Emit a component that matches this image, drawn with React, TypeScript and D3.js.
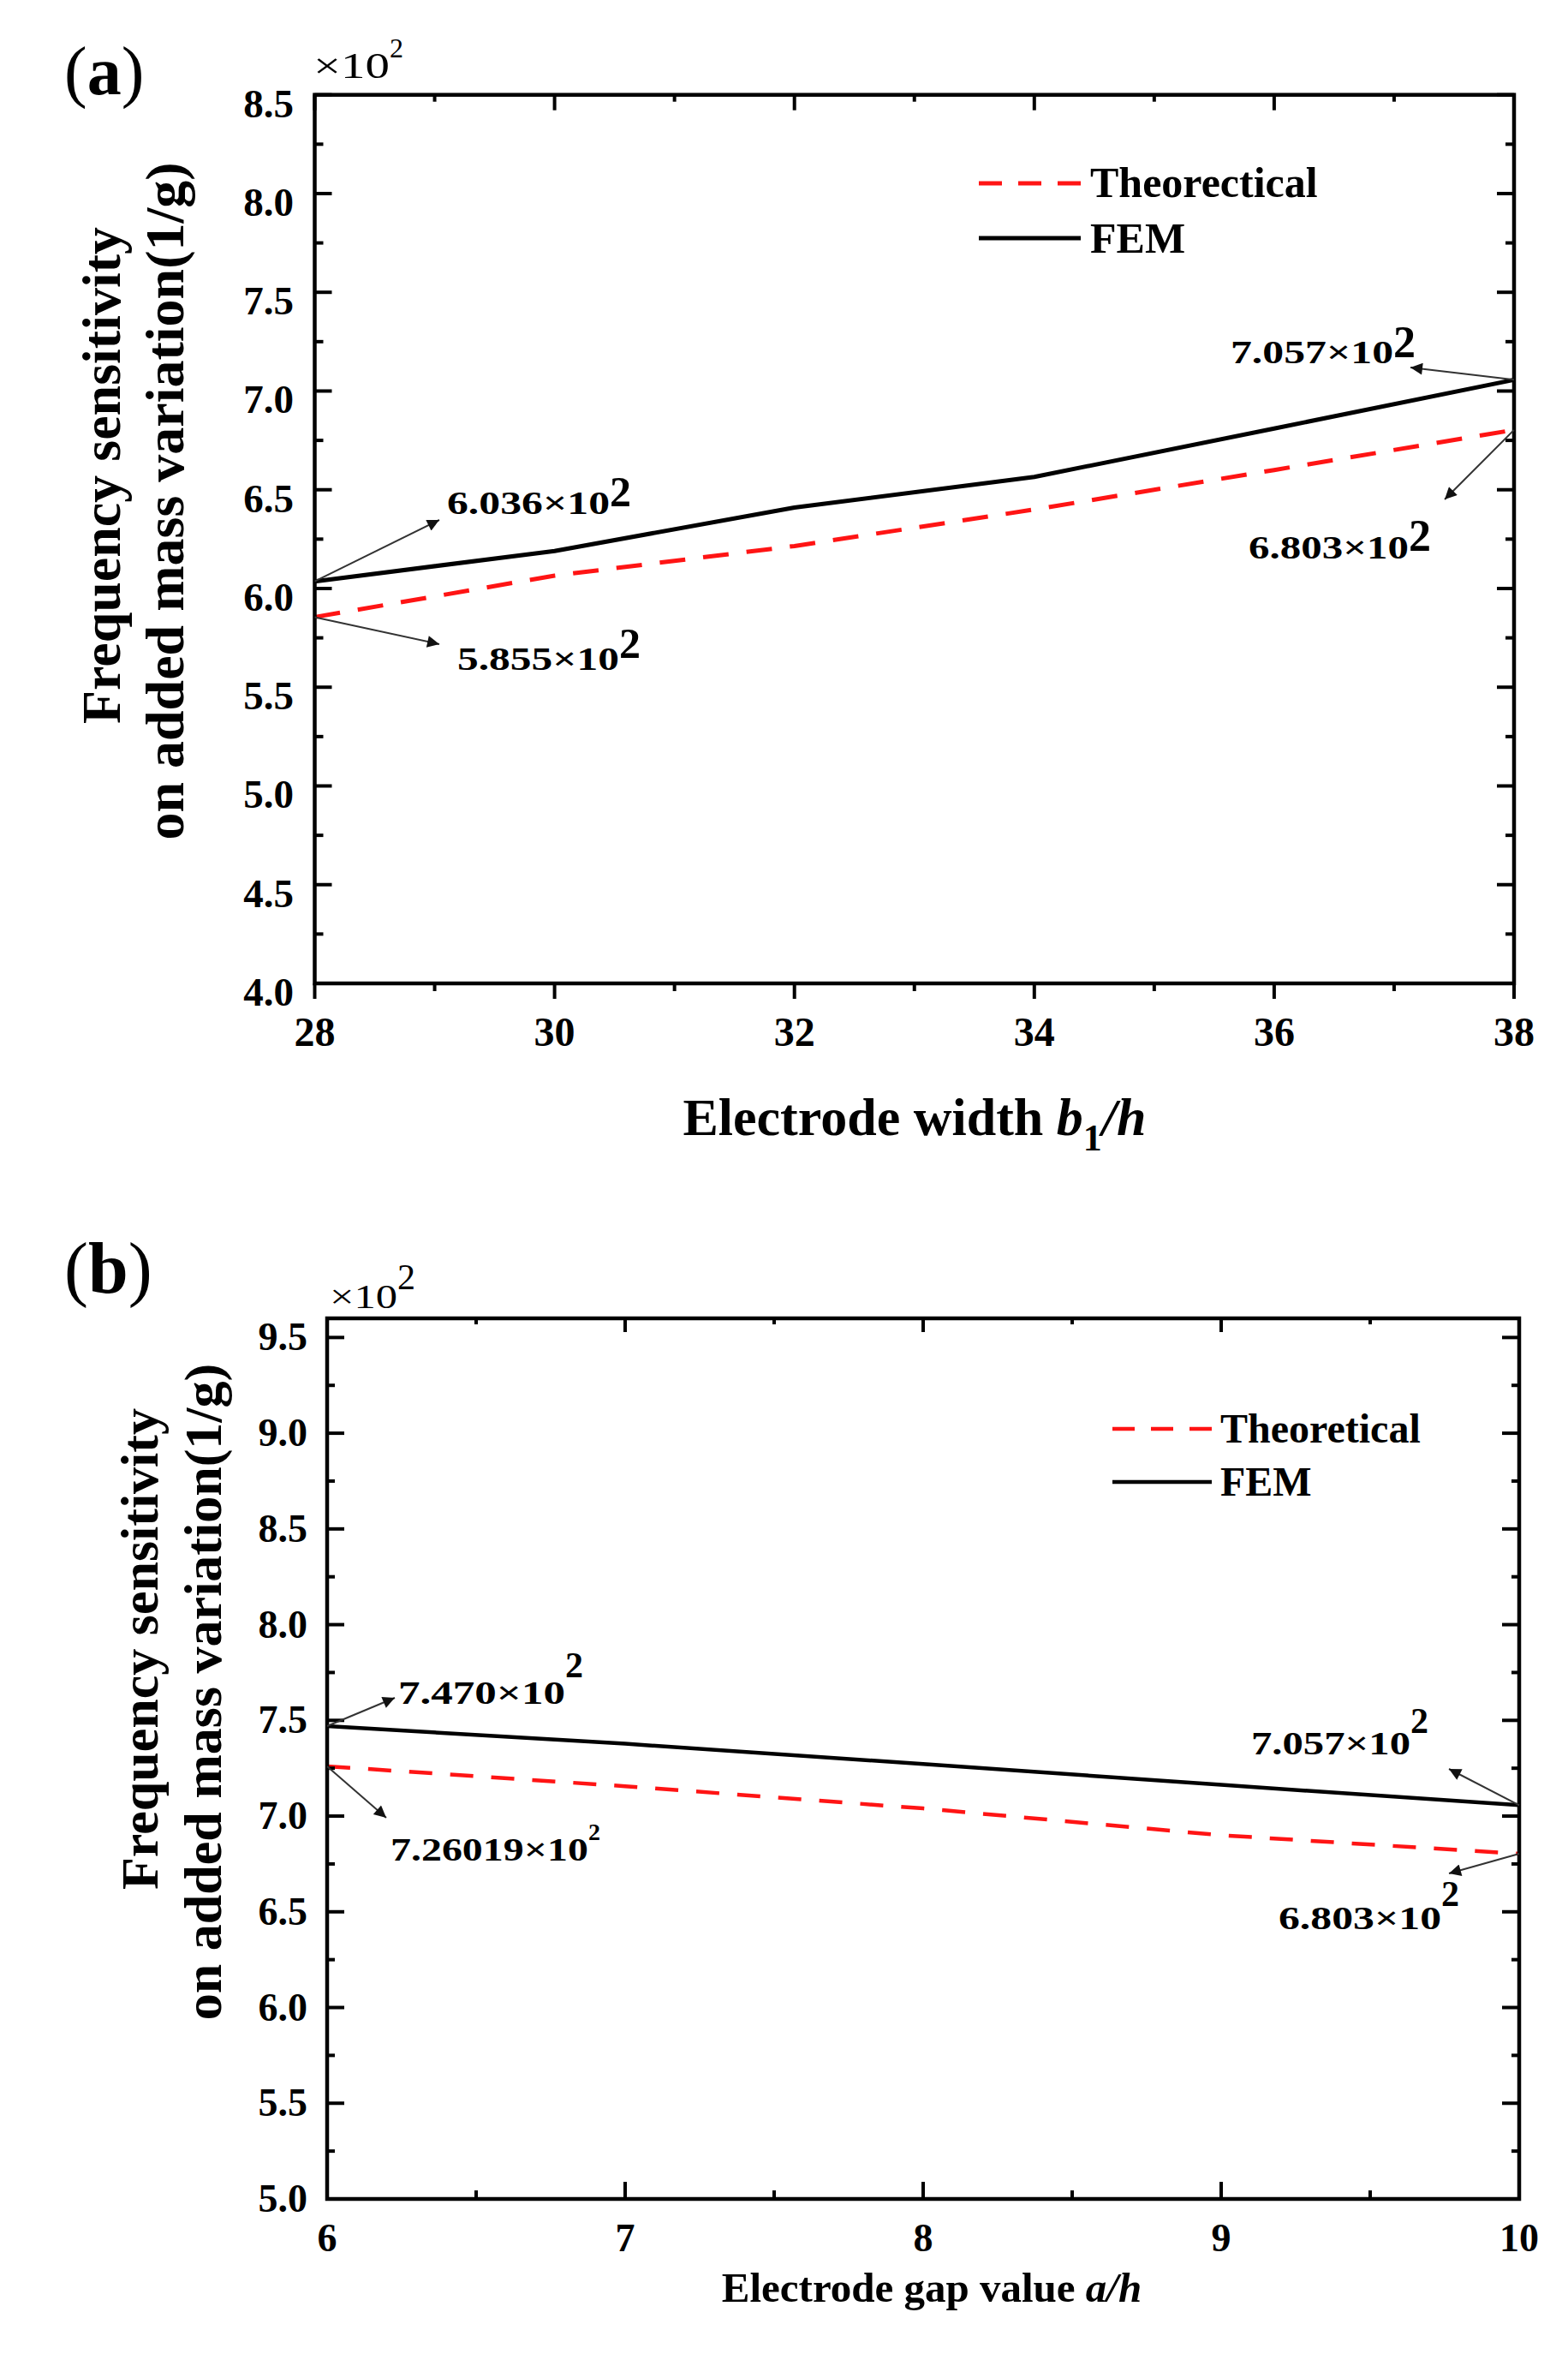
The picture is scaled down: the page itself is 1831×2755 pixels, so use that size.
import React from 'react';
import * as d3 from 'd3';

// ---------- data ----------
const aX = [28, 30, 32, 34, 36, 38];
const aTheo = [5.855, 6.065, 6.215, 6.4, 6.6, 6.803];
const aFEM = [6.036, 6.19, 6.41, 6.565, 6.81, 7.057];
const aXTicks = [28, 30, 32, 34, 36, 38];
const aYTicks = [4.0, 4.5, 5.0, 5.5, 6.0, 6.5, 7.0, 7.5, 8.0, 8.5];
const aNames = ['Theorectical', 'FEM'];

const bX = [6, 7, 8, 9, 10];
const bTheo = [7.26019, 7.156, 7.04, 6.9, 6.803];
const bFEM = [7.47, 7.378, 7.272, 7.163, 7.057];
const bXTicks = [6, 7, 8, 9, 10];
const bYTicks = [5.0, 5.5, 6.0, 6.5, 7.0, 7.5, 8.0, 8.5, 9.0, 9.5];
const bNames = ['Theoretical', 'FEM'];

const aNotes = [
  { px: 28, py: 6.036, label: '6.036×10' },
  { px: 28, py: 5.855, label: '5.855×10' },
  { px: 38, py: 7.057, label: '7.057×10' },
  { px: 38, py: 6.803, label: '6.803×10' },
];
const bNotes = [
  { px: 6, py: 7.47, label: '7.470×10' },
  { px: 6, py: 7.26019, label: '7.26019×10' },
  { px: 10, py: 7.057, label: '7.057×10' },
  { px: 10, py: 6.803, label: '6.803×10' },
];

// ---------- layout (pixel placement of the annotation texts) ----------
const aNoteLayout = [
  { hx: 513, hy: 607, tx: 522, ty: 600, tw: 190, sx: 712, sy: 591, sf: 50 },
  { hx: 513, hy: 752, tx: 534, ty: 782, tw: 189, sx: 723, sy: 768, sf: 50 },
  { hx: 1647, hy: 429, tx: 1437, ty: 424, tw: 190, sx: 1627, sy: 417, sf: 52 },
  { hx: 1687, hy: 583, tx: 1458, ty: 652, tw: 187, sx: 1645, sy: 643, sf: 52 },
];
const bNoteLayout = [
  { hx: 461, hy: 1982, tx: 465, ty: 1989, tw: 195, sx: 660, sy: 1958, sf: 42 },
  { hx: 451, hy: 2122, tx: 456, ty: 2172, tw: 231, sx: 687, sy: 2148, sf: 28 },
  { hx: 1692, hy: 2065, tx: 1461, ty: 2048, tw: 186, sx: 1647, sy: 2023, sf: 42 },
  { hx: 1692, hy: 2187, tx: 1493, ty: 2252, tw: 190, sx: 1683, sy: 2225, sf: 42 },
];

const FONT = "'Liberation Serif','Times New Roman',Times,serif";
const RED = '#ff1414';

type Cfg = {
  id: string;
  left: number; right: number; top: number; bottom: number;
  xDomain: [number, number]; yDomain: [number, number];
  xTicks: number[]; yTicks: number[];
  xMinor: number; yMinor: number;
  xs: number[]; theo: number[]; fem: number[];
  names: string[];
  notes: { px: number; py: number; label: string }[];
  noteLayout: { hx: number; hy: number; tx: number; ty: number; tw: number; sx: number; sy: number; sf: number }[];
  noteWeight: string;
  bottomOut: boolean;
  tl: { lrMaj: number; lrMin: number; tMaj: number; tMin: number; bMaj: number; bMin: number };
  yLabRight: number; yLabDy: number; yLabFs: number;
  xLabBase: number; xLabFs: number;
  dash: string; lw: number;
  legend: { x1: number; x2: number; tx: number; rows: { ly: number; ty: number }[]; fs: number; dash: string };
  panelLetter: { t: string; x: number; y: number; fs: number };
  mult: { x: number; y: number; w: number; fs: number; sx: number; sy: number; sf: number };
  yTitle: { lines: { t: string; bx: number; cy: number }[]; fs: number };
  xTitle: React.ReactNode;
};

function Panel({ c }: { c: Cfg }) {
  const x = d3.scaleLinear().domain(c.xDomain).range([c.left, c.right]);
  const y = d3.scaleLinear().domain(c.yDomain).range([c.bottom, c.top]);
  const line = d3.line<number>().x((_, i) => x(c.xs[i])).y((d) => y(d));
  const eps = 1e-6;
  const xMinor = d3.range(c.xDomain[0], c.xDomain[1] + eps, c.xMinor).filter((v) => !c.xTicks.some((t) => Math.abs(t - v) < eps));
  const yMinor = d3.range(c.yDomain[0], c.yDomain[1] + eps, c.yMinor).filter((v) => !c.yTicks.some((t) => Math.abs(t - v) < eps));
  const tw = 4;
  const tk = (k: string, x1: number, y1: number, x2: number, y2: number) => (
    <line key={k} x1={x1} y1={y1} x2={x2} y2={y2} stroke="#000" strokeWidth={tw} />
  );
  const bSign = c.bottomOut ? 1 : -1;
  return (
    <g>
      {/* curves */}
      <path d={line(c.theo) || ''} fill="none" stroke={RED} strokeWidth={c.lw} strokeDasharray={c.dash} />
      <path d={line(c.fem) || ''} fill="none" stroke="#000" strokeWidth={c.lw} strokeLinejoin="round" />
      {/* ticks */}
      {c.yTicks.map((v) => tk('yl' + v, c.left, y(v), c.left + c.tl.lrMaj, y(v)))}
      {c.yTicks.map((v) => tk('yr' + v, c.right, y(v), c.right - c.tl.lrMaj, y(v)))}
      {yMinor.map((v) => tk('yml' + v, c.left, y(v), c.left + c.tl.lrMin, y(v)))}
      {yMinor.map((v) => tk('ymr' + v, c.right, y(v), c.right - c.tl.lrMin, y(v)))}
      {c.xTicks.map((v) => tk('xt' + v, x(v), c.top, x(v), c.top + c.tl.tMaj))}
      {xMinor.map((v) => tk('xmt' + v, x(v), c.top, x(v), c.top + c.tl.tMin))}
      {c.xTicks.map((v) => tk('xb' + v, x(v), c.bottom, x(v), c.bottom + bSign * c.tl.bMaj))}
      {xMinor.map((v) => tk('xmb' + v, x(v), c.bottom, x(v), c.bottom + bSign * c.tl.bMin))}
      {/* frame */}
      <rect x={c.left} y={c.top} width={c.right - c.left} height={c.bottom - c.top} fill="none" stroke="#000" strokeWidth={4.5} />
      {/* tick labels */}
      {c.yTicks.map((v) => (
        <text key={'yl' + v} x={c.yLabRight} y={y(v) + c.yLabDy} textAnchor="end" fontFamily={FONT} fontWeight="bold" fontSize={c.yLabFs}>
          {v.toFixed(1)}
        </text>
      ))}
      {c.xTicks.map((v) => (
        <text key={'xl' + v} x={x(v)} y={c.xLabBase} textAnchor="middle" fontFamily={FONT} fontWeight="bold" fontSize={c.xLabFs}>
          {v}
        </text>
      ))}
      {/* legend */}
      <line x1={c.legend.x1} x2={c.legend.x2} y1={c.legend.rows[0].ly} y2={c.legend.rows[0].ly} stroke={RED} strokeWidth={c.lw} strokeDasharray={c.legend.dash} />
      <line x1={c.legend.x1} x2={c.legend.x2} y1={c.legend.rows[1].ly} y2={c.legend.rows[1].ly} stroke="#000" strokeWidth={c.lw} />
      {c.names.map((n, i) => (
        <text key={n} x={c.legend.tx} y={c.legend.rows[i].ty} fontFamily={FONT} fontWeight="bold" fontSize={c.legend.fs}>
          {n}
        </text>
      ))}
      {/* annotations */}
      {c.notes.map((n, i) => {
        const L = c.noteLayout[i];
        return (
          <g key={'n' + i}>
            <line x1={x(n.px)} y1={y(n.py)} x2={L.hx} y2={L.hy} stroke="#333" strokeWidth={2} markerEnd={`url(#arr-${c.id})`} />
            <text x={L.tx} y={L.ty} fontFamily={FONT} fontWeight={c.noteWeight} fontSize={38} textLength={L.tw} lengthAdjust="spacingAndGlyphs">
              {n.label}
            </text>
            <text x={L.sx} y={L.sy} fontFamily={FONT} fontWeight={c.noteWeight} fontSize={L.sf}>2</text>
          </g>
        );
      })}
      {/* multiplier */}
      <text x={c.mult.x} y={c.mult.y} fontFamily={FONT} fontSize={c.mult.fs} textLength={c.mult.w} lengthAdjust="spacingAndGlyphs">×10</text>
      <text x={c.mult.sx} y={c.mult.sy} fontFamily={FONT} fontSize={c.mult.sf}>2</text>
      {/* panel letter */}
      <text x={c.panelLetter.x} y={c.panelLetter.y} fontFamily={FONT} fontSize={c.panelLetter.fs}>
        (<tspan fontWeight="bold">{c.panelLetter.t}</tspan>)
      </text>
      {/* y title */}
      {c.yTitle.lines.map((l) => (
        <text key={l.t} transform={`translate(${l.bx},${l.cy}) rotate(-90)`} textAnchor="middle" fontFamily={FONT} fontWeight="bold" fontSize={c.yTitle.fs}>
          {l.t}
        </text>
      ))}
      {c.xTitle}
    </g>
  );
}

const cfgA: Cfg = {
  id: 'a',
  left: 367.5, right: 1768, top: 110.7, bottom: 1148,
  xDomain: [28, 38], yDomain: [4.0, 8.5],
  xTicks: aXTicks, yTicks: aYTicks, xMinor: 1, yMinor: 0.25,
  xs: aX, theo: aTheo, fem: aFEM, names: aNames,
  notes: aNotes, noteLayout: aNoteLayout, noteWeight: 'bold',
  bottomOut: true,
  tl: { lrMaj: 20, lrMin: 10, tMaj: 18, tMin: 8, bMaj: 18, bMin: 9 },
  yLabRight: 343, yLabDy: 26, yLabFs: 47,
  xLabBase: 1221, xLabFs: 48,
  dash: '30 21', lw: 5,
  legend: { x1: 1143, x2: 1262, tx: 1273, rows: [{ ly: 214, ty: 230 }, { ly: 278, ty: 295 }], fs: 50, dash: '27 19' },
  panelLetter: { t: 'a', x: 75, y: 110, fs: 80 },
  mult: { x: 366, y: 91, w: 89, fs: 43, sx: 455, sy: 67, sf: 32 },
  yTitle: { lines: [{ t: 'Frequency sensitivity', bx: 140, cy: 555 }, { t: 'on added mass variation(1/g)', bx: 214, cy: 585 }], fs: 64 },
  xTitle: (
    <text x={1068} y={1325} textAnchor="middle" fontFamily={FONT} fontWeight="bold" fontSize={62}>
      Electrode width <tspan fontStyle="italic">b</tspan>
      <tspan fontSize={44} dy={18}>1</tspan>
      <tspan fontStyle="italic" dy={-18}>/h</tspan>
    </text>
  ),
};

const cfgB: Cfg = {
  id: 'b',
  left: 382, right: 1774, top: 1539, bottom: 2567,
  xDomain: [6, 10], yDomain: [5.0, 9.6],
  xTicks: bXTicks, yTicks: bYTicks, xMinor: 0.5, yMinor: 0.25,
  xs: bX, theo: bTheo, fem: bFEM, names: bNames,
  notes: bNotes, noteLayout: bNoteLayout, noteWeight: 'bold',
  bottomOut: false,
  tl: { lrMaj: 20, lrMin: 9, tMaj: 16, tMin: 7, bMaj: 20, bMin: 10 },
  yLabRight: 359, yLabDy: 15, yLabFs: 46,
  xLabBase: 2628, xLabFs: 46,
  dash: '27 21', lw: 4.5,
  legend: { x1: 1299, x2: 1415, tx: 1425, rows: [{ ly: 1668, ty: 1684 }, { ly: 1730, ty: 1746 }], fs: 48, dash: '26 19' },
  panelLetter: { t: 'b', x: 75, y: 1509, fs: 84 },
  mult: { x: 385, y: 1527, w: 79, fs: 40, sx: 464, sy: 1505, sf: 42 },
  yTitle: { lines: [{ t: 'Frequency sensitivity', bx: 184, cy: 1925 }, { t: 'on added mass variation(1/g)', bx: 258, cy: 1975 }], fs: 62 },
  xTitle: (
    <text x={1088} y={2687} textAnchor="middle" fontFamily={FONT} fontWeight="bold" fontSize={49}>
      Electrode gap value <tspan fontStyle="italic">a/h</tspan>
    </text>
  ),
};

export default function App() {
  return (
    <svg width={1831} height={2755} style={{ position: 'absolute', left: 0, top: 0, background: '#fff' }}>
      <defs>
        {['a', 'b'].map((id) => (
          <marker key={id} id={`arr-${id}`} viewBox="0 0 10 10" refX={10} refY={5} markerWidth={24} markerHeight={14} markerUnits="userSpaceOnUse" orient="auto">
            <path d="M0,0 L10,5 L0,10 z" fill="#111" />
          </marker>
        ))}
      </defs>
      <rect x={0} y={0} width={1831} height={2755} fill="#fff" />
      <Panel c={cfgA} />
      <Panel c={cfgB} />
    </svg>
  );
}
